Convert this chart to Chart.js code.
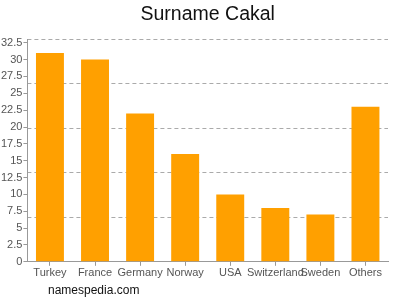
<!DOCTYPE html>
<html><head><meta charset="utf-8">
<script src="https://cdn.jsdelivr.net/npm/chart.js@4/dist/chart.umd.min.js"></script>
<style>
html,body{margin:0;padding:0;background:#fff;}
#wrap{position:relative;width:400px;height:300px;}
#foot{position:absolute;left:48px;top:283px;font:12px "Liberation Sans",Arial,sans-serif;color:#111;}
</style></head><body>
<div id="wrap"><canvas id="c" width="400" height="300"></canvas><div id="foot">namespedia.com</div></div>
<script>
const categories = ["Turkey","France","Germany","Norway","USA","Switzerland","Sweden","Others"];
const counts = [31,30,22,16,10,8,7,23];
const tickValues = [0,2.5,5,7.5,10,12.5,15,17.5,20,22.5,25,27.5,30,32.5];
const gridValues = [0,6.6,13.2,19.8,26.4,33];
const axisMax = 33;

new Chart(document.getElementById('c'), {
  type: 'bar',
  data: { labels: categories, datasets: [{ data: counts, backgroundColor: '#ffa000', borderWidth: 0, barPercentage: 0.62, categoryPercentage: 1 }] },
  options: {
    responsive: false, animation: false,
    layout: { padding: { left: 0, right: 12, top: 0, bottom: 19 } },
    plugins: {
      legend: { display: false }, tooltip: { enabled: false },
      title: { display: true, fullSize: false, text: 'Surname Cakal', color: '#111', font: { family: 'Liberation Sans', size: 19.5, weight: 'normal' }, padding: { top: 3, bottom: 13 } }
    },
    scales: {
      x: {
        grid: { display: true, drawOnChartArea: false, color: '#999', tickLength: 4, offset: false },
        border: { color: '#999' },
        ticks: { color: '#555', font: { family: 'Liberation Sans', size: 11 }, maxRotation: 0, autoSkip: false, padding: 1 }
      },
      y: {
        min: 0, max: axisMax,
        afterBuildTicks: a => { a.ticks = tickValues.map(v => ({ value: v })); },
        grid: { drawOnChartArea: false, color: '#999', tickLength: 4 },
        border: { color: '#999' },
        ticks: { color: '#555', font: { family: 'Liberation Sans', size: 11 }, padding: 1 }
      },
      y2: {
        position: 'right', min: 0, max: axisMax, display: true,
        afterBuildTicks: a => { a.ticks = gridValues.map(v => ({ value: v })); },
        afterFit: a => { a.width = 0; },
        ticks: { display: false },
        border: { display: false, dash: [4, 3] },
        grid: { color: '#aaa', lineWidth: 1, tickLength: 0, drawTicks: false },
      }
    }
  }
});
</script>
</body></html>
